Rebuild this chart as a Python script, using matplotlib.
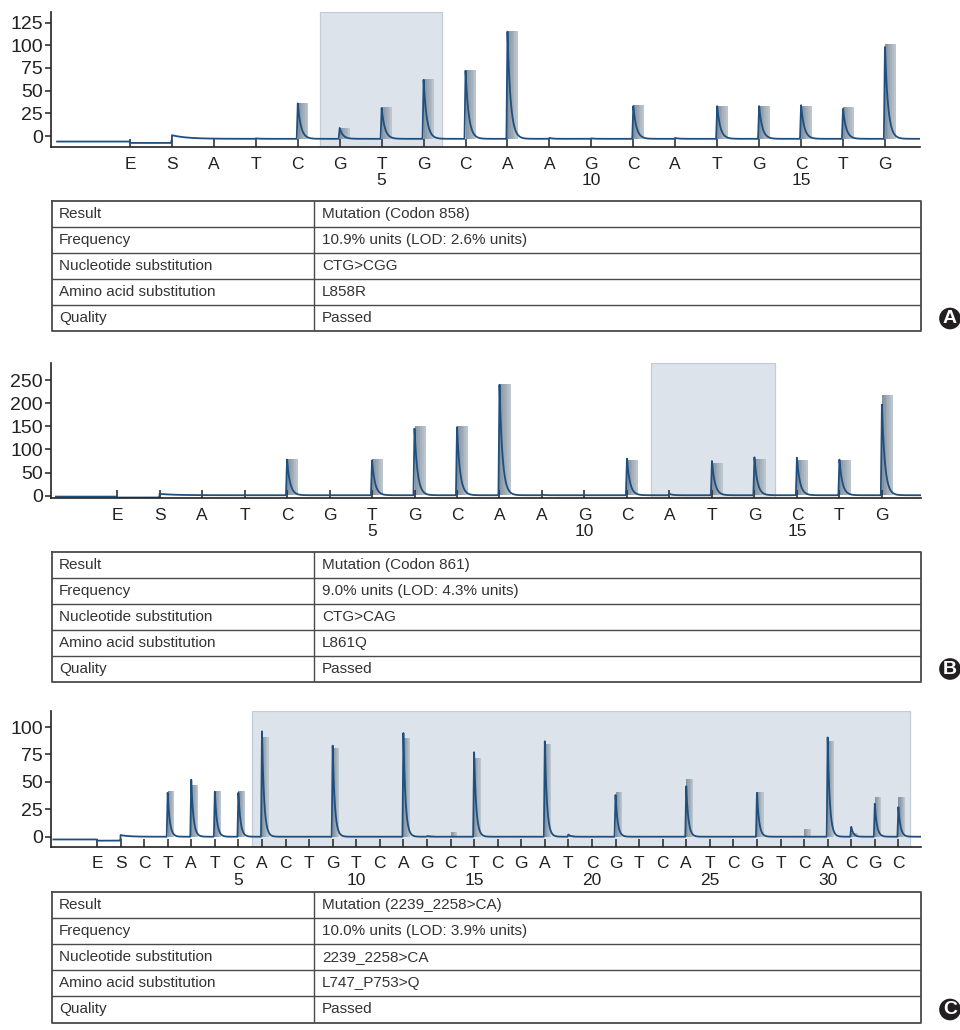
import numpy as np
import matplotlib
matplotlib.use("Agg")
import matplotlib.pyplot as plt
from matplotlib.colors import to_rgb

plt.rcParams['font.family'] = ['Liberation Sans', 'DejaVu Sans']

# ---------------- data ----------------
disp_A = ['E', 'S'] + list('ATCGTGCAAGCATGCTG')
bars_A = [0, 0, 0, 0, 36, 8.5, 32, 63, 72.5, 116, 0, 0, 34, 0, 33.5, 33, 33.5, 32, 101]
trace_A = [0, 0, 0, 0.5, 36, 9, 31, 62, 72, 115, 1, 0.5, 33, 1, 33, 33, 34, 30, 98]
base_A = [-6, -7.5, -3]          # before E, between E and S, after S
yticks_A = [0, 25, 50, 75, 100, 125]

disp_B = ['E', 'S'] + list('ATCGTGCAAGCATGCTG')
bars_B = [0, 0, 0, 0, 80, 0, 80, 151, 151, 241, 0, 0, 77.5, 0, 70, 80, 78, 78, 217]
trace_B = [0, 0, 0, 0, 78, 0, 76, 145, 148, 240, 2, 0, 80, 4, 75, 83, 82, 78, 197]
base_B = [-2, -4, 1]
yticks_B = [0, 50, 100, 150, 200, 250]

disp_C = ['E', 'S'] + list('CTATCACTGTCAGCTCGATCGTCATCGTCACGC')
bars_C = [0, 0, 0, 42, 47, 42, 42, 90.5, 0, 0, 81, 0, 0, 90, 2, 4, 72, 0, 0, 84.5,
          2, 0, 41, 0, 0, 53, 0, 0, 41, 0, 7, 87.5, 3, 36.5, 36]
trace_C = [0, 0, 0, 40, 52, 41, 40, 96, 0, 0, 83, 0, 0, 94.5, 0.5, 0, 77, 0, 0, 87,
           2, 0, 38, 0, 0, 46, 0, 0, 40, 0, 0, 90.5, 9, 30, 27]
base_C = [-2.5, -3.6, 0]
yticks_C = [0, 25, 50, 75, 100]

row_labels = ['Result', 'Frequency', 'Nucleotide substitution',
              'Amino acid substitution', 'Quality']
values_A = ['Mutation (Codon 858)', '10.9% units (LOD: 2.6% units)', 'CTG>CGG', 'L858R', 'Passed']
values_B = ['Mutation (Codon 861)', '9.0% units (LOD: 4.3% units)', 'CTG>CAG', 'L861Q', 'Passed']
values_C = ['Mutation (2239_2258>CA)', '10.0% units (LOD: 3.9% units)', '2239_2258>CA',
            'L747_P753>Q', 'Passed']

# ---------------- layout ----------------
W, H = 960, 1030
fig = plt.figure(figsize=(W / 100, H / 100), dpi=100)


def box(x0, y0, x1, y1):
    return [x0 / W, 1 - y1 / H, (x1 - x0) / W, (y1 - y0) / H]


TRACE = '#1f4f7f'
SHADE = '#dde3ea'
SHADE_EDGE = '#c3ccd6'
BAR_L = np.array(to_rgb('#8593a1'))
BAR_R = np.array(to_rgb('#bcc5cd'))


def pulse(x, x0, h, rise, tau):
    y = np.zeros_like(x)
    m1 = (x >= x0 - rise) & (x < x0)
    y[m1] = h * (x[m1] - (x0 - rise)) / rise
    m2 = x >= x0
    y[m2] = h * np.exp(-(x[m2] - x0) / tau)
    return y


def panel(rect, disp, bars, trace, base, yticks, xlim, ylim, xstart,
          shade, barw, tau, rise, s_spike):
    ax = fig.add_axes(box(*rect))
    ax.set_xlim(*xlim)
    ax.set_ylim(*ylim)
    ax.axvspan(shade[0], shade[1], ymin=0, ymax=1, facecolor=SHADE,
               edgecolor=SHADE_EDGE, lw=0.9, zorder=0)
    idx = np.arange(len(disp))
    # bars with a left-to-right gradient
    nstrip = 6
    b = base[2]
    for i, h in zip(idx, bars):
        if h <= 0:
            continue
        for k in range(nstrip):
            c = BAR_L + (BAR_R - BAR_L) * k / (nstrip - 1)
            ax.bar(i + barw * k / nstrip, h - b, bottom=b, width=barw / nstrip + 0.002,
                   align='edge', color=c, lw=0, zorder=1)
    # trace
    x = np.linspace(xstart, xlim[1], 8000)
    x = np.sort(np.concatenate([x, idx.astype(float)]))
    y = np.where(x < 0, base[0], np.where(x < 1, base[1], base[2])).astype(float)
    y += pulse(x, 1, s_spike, rise, 0.35)
    for i, h in zip(idx, trace):
        if h > 0:
            y += pulse(x, i, h - b if h > abs(b) else h, rise, tau)
    ax.plot(x, y, color=TRACE, lw=1.3, zorder=2, solid_joinstyle='round')
    # axes styling
    for s in ['top', 'right']:
        ax.spines[s].set_visible(False)
    for s in ['left', 'bottom']:
        ax.spines[s].set_color('#222222')
        ax.spines[s].set_linewidth(1.2)
    ax.set_yticks(yticks)
    ax.set_yticklabels([str(v) for v in yticks])
    labels = []
    for i, d in enumerate(disp):
        pos = i - 1
        if i >= 2 and pos % 5 == 0:
            labels.append(f'{d}\n{pos}')
        else:
            labels.append(d)
    ax.set_xticks(idx)
    ax.set_xticklabels(labels)
    for t in ax.get_xticklabels():
        t.set_linespacing(1.1)
    ax.tick_params(axis='x', direction='in', length=6, width=1.1, pad=7,
                   labelsize=12.5, color='#222222', labelcolor='#222222')
    ax.tick_params(axis='y', direction='out', length=4, width=1.1, pad=2,
                   labelsize=14, color='#222222', labelcolor='#222222')
    return ax


def table(top, values, divider=314):
    left, right = 51.7, 921
    rh = 26.1
    bottom = top + 5 * rh
    ax = fig.add_axes(box(left, top, right, bottom))
    ax.set_xlim(left, right)
    ax.set_ylim(bottom, top)
    ax.axis('off')
    lc = '#4a4a4a'
    ax.plot([left, right, right, left, left], [top, top, bottom, bottom, top],
            color=lc, lw=1.3, clip_on=False)
    for r in range(1, 5):
        ax.plot([left, right], [top + r * rh] * 2, color=lc, lw=1.0)
    ax.plot([divider, divider], [top, bottom], color=lc, lw=1.0)
    for r, (lab, val) in enumerate(zip(row_labels, values)):
        yc = top + (r + 0.5) * rh
        ax.text(left + 7.5, yc, lab, va='center', ha='left', fontsize=11, color='#333333')
        ax.text(divider + 8, yc, val, va='center', ha='left', fontsize=11, color='#333333')
    return bottom


def badge(letter, yc):
    fig.text(950 / W, 1 - yc / H, letter, ha='center', va='center', fontsize=14,
             fontweight='bold', color='white',
             bbox=dict(boxstyle='circle,pad=0.12', fc='#231f20', ec='none'))


# Panel A
panel((51, 11.7, 920, 147), disp_A, bars_A, trace_A, base_A, yticks_A,
      (-1.884, 18.836), (-12, 137), -1.74, (4.52, 7.44), 0.25, 0.075, 0.025, 4)
bA = table(201, values_A)
badge('A', bA - 13)

# Panel B
panel((51, 363, 921, 498), disp_B, bars_B, trace_B, base_B, yticks_B,
      (-1.555, 18.92), (-5, 287), -1.44, (12.56, 15.48), 0.26, 0.07, 0.025, 3)
bB = table(551.5, values_B)
badge('B', bB - 13)

# Panel C
panel((51, 711, 921, 846.7), disp_C, bars_C, trace_C, base_C, yticks_C,
      (-1.95, 34.96), (-9.1, 114.6), -1.85, (6.59, 34.5), 0.28, 0.09, 0.04, 1.5)
bC = table(892, values_C)
badge('C', bC - 13)

fig.savefig('out.png', dpi=100)
